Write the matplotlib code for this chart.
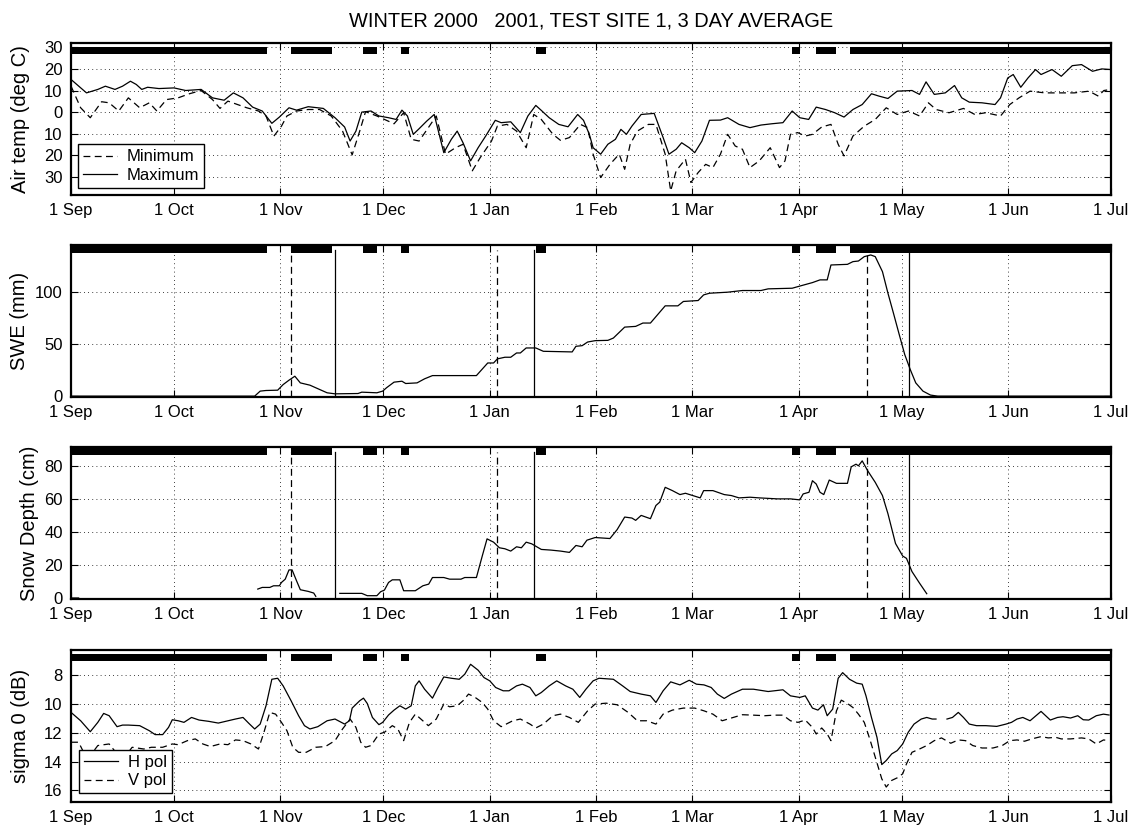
import numpy as np
import matplotlib.pyplot as plt
from matplotlib.lines import Line2D
from datetime import date

plt.rcParams['font.family'] = ['Liberation Sans', 'DejaVu Sans']
plt.rcParams['font.size'] = 12

# time axis: days since 1 Sep 2000
start = date(2000, 9, 1)
month_dates = [date(2000, 9, 1), date(2000, 10, 1), date(2000, 11, 1), date(2000, 12, 1),
               date(2001, 1, 1), date(2001, 2, 1), date(2001, 3, 1), date(2001, 4, 1),
               date(2001, 5, 1), date(2001, 6, 1), date(2001, 7, 1)]
month_labels = ['1 Sep', '1 Oct', '1 Nov', '1 Dec', '1 Jan', '1 Feb', '1 Mar',
                '1 Apr', '1 May', '1 Jun', '1 Jul']
month_days = [(d - start).days for d in month_dates]

# flagged periods shown as black bars along the top of each panel (day from, day to)
flag_from = [0, 64, 85, 96, 135.5, 210, 217, 227]
flag_to = [57, 76, 89, 98.5, 138.5, 212.5, 223, 303]

# event markers
dashed_events = [64, 124, 232]
solid_events = [77, 135, 244]

# air temperature, 3 day average
tmax_day = [0, 4.5, 7.8, 10, 12.8, 15, 17.3, 19, 20.6, 22.3,
            25.6, 30, 33.4, 37.9, 41.2, 44.6, 47.3, 50.1, 52.9, 55.7,
            58.5, 60.7, 63.5, 65.7, 69.1, 73.5, 76.9, 79.7, 81.3, 83,
            84.7, 87.4, 89.7, 92.5, 94.7, 96.4, 98, 99.7, 101.4, 103.6,
            105.8, 108.6, 110.8, 112.5, 114.2, 116.4, 118.6, 120.8, 123.6, 125.3,
            128.1, 130.9, 133.1, 135.4, 137, 139.3, 142.1, 144.8, 147.6, 149.3,
            151, 152.1, 154.3, 156.4, 158.6, 160.2, 161.8, 163.4, 166.1, 169.9,
            172.5, 174.2, 176.3, 177.9, 180.1, 181.7, 183.8, 186, 189.2, 191.3,
            194.6, 197.8, 201, 204.2, 207.4, 210.1, 212.3, 214.9, 217.1, 219.8,
            222.5, 225.2, 227.8, 230.5, 233.2, 235.4, 238, 240.7, 245, 247.2,
            249.1, 251.5, 254.7, 257.4, 259.5, 261.7, 265.4, 269.2, 270.8, 272.9,
            274.5, 276.7, 278.8, 281, 282.6, 285.8, 288.5, 291.7, 294.4, 297.6,
            300.3, 303]
tmax_val = [15.1, 8.9, 10.5, 12, 10.5, 12, 14.3, 12.8, 10.5, 11.5,
            10.9, 11.2, 10, 10.5, 6.6, 5.5, 8.9, 6.6, 2.3, 0.5,
            -5.2, -2.3, 2, 0.9, 2.5, 1.7, -2.6, -6.9, -13.4, -8.8,
            0, 0.5, -1.8, -2.6, -3.4, 0.9, -1.8, -10.3, -7.7, -4.2,
            -1.1, -18.8, -12.6, -8.8, -14.2, -22.6, -16.5, -11.1, -3.8, -4.9,
            -4.5, -9.5, -1.8, 3.1, 0.8, -2.6, -5.7, -6.8, -1.1, -3.8,
            -10.3, -16.5, -19.5, -14.9, -12.6, -8, -10.3, -6.5, -1.1, -0.6,
            -11.8, -19.5, -17.2, -14.2, -16.5, -18.8, -13.4, -3.8, -3.7, -2.6,
            -5.7, -7.2, -6, -5.4, -4.9, 0.5, -2.6, -3.4, 2.3, 1.2,
            -0.3, -2.3, 1.2, 3.5, 8.5, 7.4, 6.3, 9.7, 10, 8.2,
            14, 8.2, 8.9, 12.3, 6.6, 4.6, 4.3, 3.5, 6.6, 15.8,
            17.4, 11.5, 15.8, 19.7, 17.4, 19.7, 16.6, 21.5, 22, 18.9,
            20, 19.7]

tmin_day = [0, 2.8, 5.6, 8.9, 11.1, 13.9, 16.7, 20, 22.8, 25,
            27.8, 31.2, 34.5, 37.9, 41.2, 43.4, 45.7, 48.5, 51.2, 54.6,
            56.8, 59.1, 61.3, 62.9, 65.7, 69.1, 72.4, 75.8, 79.1, 81.9,
            84.1, 85.8, 89.1, 94.1, 96.9, 99.1, 101.4, 104.1, 106.4, 109.1,
            112, 114.2, 116.9, 119.2, 122.5, 124.2, 127, 129.8, 132.6, 134.8,
            137, 140.4, 142.6, 145.2, 148.4, 150.5, 152.1, 154.3, 157, 159.7,
            161.3, 162.9, 165, 168.2, 170.4, 173.1, 174.7, 176.3, 179, 180.6,
            182.7, 184.9, 187, 189.2, 191.3, 193.5, 195.6, 197.8, 200.5, 203.7,
            206.4, 208, 209.6, 211.7, 213.9, 216, 218.7, 221.4, 223.5, 225.2,
            227.8, 231.1, 234.3, 237.5, 240.7, 244, 247.2, 249.8, 252, 255.8,
            260, 263.3, 266.5, 270.8, 273.5, 276.2, 279.4, 283.7, 288, 292.3,
            296.6, 299.3, 300.9, 303]
tmin_val = [12, 2, -2.6, 4.8, 4.3, 0.5, 6.6, 2, 4.3, 0.5,
            5.8, 6.6, 8.5, 10, 5.8, 1.7, 5.1, 3.5, 2, 0.5,
            -1.8, -11.1, -6.5, -1.8, 0.5, 1.2, 1.2, -1.8, -8.8, -19.8,
            -8.8, 0.2, -1.8, -5.4, -0.3, -12.6, -13.4, -7.2, -1.8, -19.5,
            -16.5, -14.9, -27.2, -21.1, -13.4, -6.5, -5.7, -8.8, -16.5, -1.1,
            -3.4, -10.3, -13.1, -11.8, -5.7, -7.2, -19.5, -30.3, -24.2, -19.5,
            -26.5, -14.9, -8.8, -5.7, -5.7, -19.5, -36.5, -27.2, -21.8, -32.6,
            -28, -24.2, -25.7, -19.5, -10.3, -15.7, -17.2, -25.7, -22.6, -16.5,
            -25.7, -22.6, -10.3, -9.5, -11.1, -10.3, -6.9, -5.7, -14.9, -20.3,
            -11.1, -6.5, -3.4, 2, -1.1, 0.5, -1.8, 4.3, 1.2, -0.3,
            1.7, -1.1, -0.3, -1.8, 3.5, 6.6, 9.7, 8.9, 8.9, 8.9,
            9.7, 7.4, 10, 10.5]

# snow water equivalent (mm)
swe_day = [0, 53.5, 55.1, 56.8, 60.2, 61.8, 63.5, 65.2, 66.8, 69.6,
           72.4, 74.6, 76.9, 83.6, 84.7, 89.1, 90.8, 91.9, 94.1, 96.4,
           97.5, 100.8, 103, 105.3, 118.1, 121.4, 123.1, 124.2, 126.4, 128.1,
           129.8, 130.9, 132.6, 135.4, 137.6, 146, 147.1, 148.9, 150.5, 152.7,
           156.4, 158, 161.3, 164.5, 166.6, 168.8, 173.1, 176.8, 178.4, 182.7,
           184.3, 186, 191.3, 195.6, 201, 203.1, 210.1, 212.8, 216, 218.2,
           220.3, 221.4, 226.2, 227.8, 229.4, 231.1, 233, 234.3, 236.4, 238,
           239.6, 241.3, 242.9, 244.5, 246.1, 248.2, 250.4, 252.5, 303]
swe_val = [0, 0, 4.8, 5.4, 5.7, 11.1, 15.3, 19.1, 12.7, 10.5,
           6.4, 3.2, 2.2, 2.5, 3.8, 3.2, 4.8, 8, 13.4, 14.3,
           12.1, 12.7, 16.6, 19.7, 19.7, 31.8, 31.8, 35.7, 37.3, 37.3,
           41.4, 41.4, 46.2, 46.2, 43, 42.4, 47.8, 48.4, 51.9, 53.2,
           53.5, 55.7, 66.2, 66.9, 70.1, 70.1, 86.6, 86.6, 90.8, 91.7,
           97.1, 98.7, 99.7, 101.3, 101.3, 102.9, 103.5, 106, 108.9, 111.5,
           111.5, 125.8, 126.4, 129, 129.6, 133.8, 135.4, 133.8, 119.4, 98.7,
           79.6, 58.9, 39.8, 25.5, 12.7, 4.8, 1, 0, 0]

# snow depth (cm), nan marks missing records
depth_day = [0, 2.2, np.nan,
             54.4, 55.7, 57.9, 59, 60.7, 61.3, 62.4, 63.5, 64.4, 65.7, 66.8, 69.1, 70.7, 71.3,
             np.nan,
             78.3, 84.7, 86.3, 89.1, 90.2, 91.3, 92.5, 93.6, 95.8, 96.9,
             100.3, 102.5, 104.2, 105.3, 108.6, 110.3, 113.6, 114.7, 118.1, 119.8,
             121.2, 123.1, 124.8, 126.4, 128.1, 129.8, 131.2, 132.6, 134.2, 137,
             139.8, 142.6, 145.2, 147.1, 148.9, 150.3, 152.7, 157, 159.1, 161.3,
             163.4, 164.5, 166.1, 168.8, 170.4, 171.5, 173.1, 175.2, 177.4, 179,
             183.3, 184.3, 187, 190.3, 192.4, 194.6, 197.8, 200.5, 205.8, 209.6,
             212.3, 213.3, 215, 216, 217.1, 218.2, 219.3, 220.9, 223, 226.2,
             227.3, 228.7, 229.4, 230.5, 232.1, 234.3, 236.4, 238, 240.2, 242.3,
             243.4, 245, 247.2, 249.3]
depth_val = [0, 0, np.nan,
             5.4, 6.4, 6.4, 7.4, 7.4, 9.4, 11.4, 17, 17, 10.4, 5, 4, 3, 1,
             np.nan,
             2.8, 2.8, 1.4, 1.4, 3.8, 4.8, 9.4, 11, 11, 4.4,
             4.4, 7.4, 8.4, 12.4, 12.4, 11.4, 11.4, 12.4, 12.4, 25.4,
             35.8, 33.8, 30.4, 29.8, 28.4, 31, 30.4, 33.8, 32.8, 29.4,
             29, 28.4, 27.6, 31.8, 31, 35, 36.6, 36, 41.4, 49,
             48.4, 47, 50, 48, 56, 58, 67, 65, 62.6, 63.4,
             60.6, 65, 65, 62.6, 62, 60.6, 61, 60.6, 60, 60,
             59.4, 63, 64, 71, 69, 64, 62.6, 71.4, 69.4, 69.4,
             79.4, 81, 80, 83, 77, 70, 62, 51, 33, 25.4,
             24, 16, 9, 2.6]

# backscatter sigma 0 (dB)
hpol_day = [0, 2.8, 5.6, 7.8, 9.5, 11.1, 13.4, 15, 16.7, 20,
            22.8, 24.5, 26.7, 28.4, 29.5, 31.2, 32.9, 35.1, 37.3, 40.1,
            42.9, 45.7, 47.9, 50.1, 51.8, 53.5, 55.1, 56.8, 58.5, 60.2,
            61.8, 64.1, 66.3, 68, 69.6, 71.9, 74.6, 76.9, 79.7, 81.1,
            81.9, 84.1, 85.2, 86.3, 87.8, 89.7, 90.8, 92.5, 94.1, 95.8,
            97.5, 99.1, 100.3, 101.4, 103, 105.3, 106.9, 108.6, 110.8, 113.1,
            114.7, 116.4, 118.6, 120.3, 122, 123.7, 125.9, 127.6, 129.8, 131.5,
            133.7, 135.4, 137, 139.3, 141.5, 144.1, 146.2, 148.2, 150, 152.1,
            153.8, 158, 160.7, 162.9, 166.1, 168.8, 170.4, 172.5, 174.7, 177.4,
            180.1, 182.2, 184.4, 186.5, 188.3, 190.3, 192.4, 195.6, 198.8, 203.1,
            207.4, 209.6, 212.3, 213.9, 216, 217.6, 219.2, 220.3, 221.9, 223.5,
            224.8, 226.8, 228.9, 230.5, 231.6, 233.2, 234.8, 236.2, 237.5, 239.1,
            240.7, 242.3, 243.9, 245.6, 247.7, 249.3, 250.9, 252, np.nan, 255.2,
            256.8, 258.5, 260, 261.7, 263.8, 266.5, 269.7, 272.4, 274, 275.6,
            277.3, 279.4, 282.6, 285.3, 287.4, 289, 291.2, 293.3, 294.9, 296.5,
            298.7, 300.8, 302.4]
hpol_val = [10.58, 11.16, 11.92, 11.27, 10.65, 10.81, 11.57, 11.46, 11.46, 11.5,
            11.85, 12.12, 12.12, 11.62, 11.09, 11.16, 11.27, 10.93, 11.11, 11.2,
            11.32, 11.16, 11.04, 10.93, 11.34, 11.73, 11.39, 10.12, 8.28, 8.21,
            8.74, 9.77, 10.81, 11.5, 11.73, 11.57, 11.16, 11.04, 11.39, 11.16,
            10.28, 9.77, 9.59, 9.96, 10.93, 11.43, 11.27, 10.76, 10.42, 10.12,
            10.35, 10.12, 8.74, 8.39, 8.97, 9.59, 8.85, 8.12, 8.21, 8.28,
            7.93, 7.24, 7.65, 8.16, 8.39, 8.85, 9.08, 9.08, 8.74, 8.62,
            8.85, 9.43, 9.2, 8.74, 8.39, 8.74, 8.97, 9.54, 8.97, 8.39,
            8.21, 8.28, 8.74, 9.13, 9.31, 9.43, 9.89, 9.08, 8.46, 8.67,
            8.35, 8.62, 8.67, 8.85, 9.31, 9.61, 9.31, 8.97, 8.97, 9.13,
            9.01, 9.43, 9.54, 9.43, 10.28, 10.42, 10.05, 10.81, 10.35, 8.21,
            7.82, 8.28, 8.55, 8.62, 9.43, 10.93, 12.31, 14.2, 13.92, 13.46,
            13.23, 12.77, 11.96, 11.39, 11.04, 10.93, 11.04, 11.04, np.nan, 11.04,
            10.93, 10.58, 10.93, 11.39, 11.5, 11.5, 11.55, 11.39, 11.27, 11.04,
            10.93, 11.16, 10.51, 11.11, 10.93, 10.88, 10.97, 10.81, 11.09, 11.11,
            10.81, 10.7, 10.76]

vpol_day = [0, 2.2, 3.9, 5.6, 7.8, 11.1, 13.4, 15.6, 17.8, 21.2,
            23.4, 26.7, 29.5, 31.2, 33.9, 36.2, 38.4, 40.6, 43.4, 45.7,
            47.9, 50.1, 52.4, 54.6, 56.2, 57.9, 59.6, 61.3, 62.9, 64.6,
            66.3, 68.5, 71.3, 74.1, 76.9, 79.1, 81.3, 83, 84.4, 85.8,
            87.4, 89.7, 91.3, 93.6, 95.2, 96.9, 98.6, 100.3, 101.9, 104.1,
            106.4, 108.6, 110.3, 112.5, 114.2, 115.8, 117.5, 119.8, 121.4, 123.1,
            125.3, 128.7, 130.9, 133.7, 135.4, 137.6, 140.4, 142.6, 145.2, 147.8,
            150.5, 152.7, 155.9, 159.1, 162.3, 165, 167.7, 170.4, 172.5, 175.2,
            178.4, 181.7, 184.4, 187, 189.7, 192.4, 195.6, 198.8, 202.1, 204.8,
            207.4, 209.6, 211.8, 213.9, 216, 217.1, 218.7, 220.3, 221.4, 223,
            224.4, 226.2, 227.8, 229.4, 231.1, 232.7, 234.3, 236.2, 237.5, 239.1,
            240.7, 242.3, 243.4, 245, 247.2, 249.3, 251.5, 253.6, 256.3, 258.5,
            260.6, 262.7, 265.4, 268.6, 271.3, 273.5, 275.6, 277.8, 279.9, 282.6,
            284.7, 286.9, 288.5, 291.2, 294.4, 296.5, 298.7, 300.8, 302.4]
vpol_val = [12.65, 12.65, 13.46, 13.58, 12.88, 12.77, 13.46, 13.69, 13, 13.12,
            13, 13, 12.77, 12.82, 12.54, 12.42, 12.77, 12.95, 12.77, 12.82,
            12.49, 12.54, 12.77, 13.12, 11.96, 10.58, 10.7, 11.27, 11.85, 13,
            13.35, 13.35, 13, 12.95, 12.54, 11.73, 11.04, 11.62, 12.65, 13,
            12.88, 12.08, 11.96, 11.5, 11.73, 12.54, 11.27, 10.7, 11.04, 11.5,
            11.04, 10, 10.19, 10.12, 9.77, 9.31, 9.5, 9.89, 10.35, 11.16,
            11.57, 11.16, 11.04, 11.39, 11.66, 11.39, 10.81, 10.7, 10.93, 11.27,
            10.47, 10, 9.94, 10.05, 10.58, 11.16, 11.16, 11.39, 10.7, 10.42,
            10.28, 10.28, 10.47, 10.7, 11.16, 10.97, 10.74, 10.77, 10.81, 10.77,
            10.77, 11.16, 11.27, 11.11, 11.62, 12.08, 11.66, 12.08, 12.54, 10.47,
            9.73, 9.96, 10.24, 10.7, 11.27, 12.42, 13.69, 15.19, 15.76, 15.3,
            15.12, 14.84, 14.15, 13.35, 13.12, 12.88, 12.54, 12.35, 12.72, 12.49,
            12.54, 12.88, 13.05, 13.05, 12.88, 12.54, 12.49, 12.58, 12.42, 12.26,
            12.35, 12.31, 12.42, 12.42, 12.35, 12.42, 12.77, 12.49, 12.54]

DASH = (0, (5.5, 3.5))
LW = 0.9
LABEL_SIZE = 14.5

fig = plt.figure(figsize=(11.35, 8.27), dpi=100)
left, width, height = 0.0626, 0.9163, 0.1838
bottoms = [0.7642, 0.5200, 0.2757, 0.0302]
axes = [fig.add_axes([left, b, width, height]) for b in bottoms]


def style_axis(ax, bar_y):
    ax.set_xlim(0, 303)
    ax.set_xticks(month_days)
    ax.set_xticklabels(month_labels)
    ax.tick_params(direction='in', top=True, right=True, length=5, width=0.8, pad=6)
    ax.grid(True, linestyle=(0, (1, 4)), color='k', linewidth=0.6)
    ax.set_axisbelow(True)
    for sp in ax.spines.values():
        sp.set_linewidth(1.6)
    widths = [b - a for a, b in zip(flag_from, flag_to)]
    ax.broken_barh(list(zip(flag_from, widths)), (bar_y, 0.05),
                   transform=ax.get_xaxis_transform(), facecolor='k', edgecolor='none')


# Air temperature
ax = axes[0]
ax.plot(tmin_day, tmin_val, color='k', lw=LW, linestyle=DASH)
ax.plot(tmax_day, tmax_val, color='k', lw=LW)
ax.set_ylim(-38.4, 32)
temp_ticks = [-30, -20, -10, 0, 10, 20, 30]
ax.set_yticks(temp_ticks)
ax.set_yticklabels([str(abs(t)) for t in temp_ticks])
ax.set_ylabel('Air temp (deg C)', fontsize=LABEL_SIZE)
ax.yaxis.set_label_coords(-0.039, 0.5)
style_axis(ax, 0.926)
handles = [Line2D([], [], color='k', lw=LW, linestyle=DASH),
           Line2D([], [], color='k', lw=LW)]
leg = ax.legend(handles, ['Minimum', 'Maximum'], loc='lower left',
                bbox_to_anchor=(0.007, 0.048), borderaxespad=0, fancybox=False,
                edgecolor='k', framealpha=1, handlelength=2.0, borderpad=0.3,
                labelspacing=0.2, handletextpad=0.6)
leg.get_frame().set_linewidth(1.0)

title = 'WINTER 2000   2001, TEST SITE 1, 3 DAY AVERAGE'
fig.text(0.5207, 0.9674, title, ha='center', va='baseline', fontsize=14.4)

# SWE
ax = axes[1]
ax.plot(swe_day, swe_val, color='k', lw=LW)
for d in dashed_events:
    ax.axvline(d, ymax=0.97, color='k', lw=LW, linestyle=DASH)
for d in solid_events:
    ax.axvline(d, ymax=0.97, color='k', lw=LW)
ax.set_ylim(-0.8, 145)
ax.set_yticks([0, 50, 100])
ax.set_ylabel('SWE (mm)', fontsize=LABEL_SIZE)
ax.yaxis.set_label_coords(-0.040, 0.5)
style_axis(ax, 0.945)

# Snow depth
ax = axes[2]
ax.plot(depth_day, depth_val, color='k', lw=LW)
for d in dashed_events:
    ax.axvline(d, ymax=0.97, color='k', lw=LW, linestyle=DASH)
for d in solid_events:
    ax.axvline(d, ymax=0.97, color='k', lw=LW)
ax.set_ylim(-0.6, 91.4)
ax.set_yticks([0, 20, 40, 60, 80])
ax.set_ylabel('Snow Depth (cm)', fontsize=LABEL_SIZE)
ax.yaxis.set_label_coords(-0.031, 0.5)
style_axis(ax, 0.945)

# Backscatter
ax = axes[3]
ax.plot(hpol_day, hpol_val, color='k', lw=LW)
ax.plot(vpol_day, vpol_val, color='k', lw=LW, linestyle=DASH)
ax.set_ylim(16.8, 6.25)
ax.set_yticks([8, 10, 12, 14, 16])
ax.set_ylabel('sigma 0 (dB)', fontsize=LABEL_SIZE)
ax.yaxis.set_label_coords(-0.039, 0.5)
style_axis(ax, 0.926)
handles = [Line2D([], [], color='k', lw=LW),
           Line2D([], [], color='k', lw=LW, linestyle=DASH)]
leg = ax.legend(handles, ['H pol', 'V pol'], loc='lower left',
                bbox_to_anchor=(0.008, 0.057), borderaxespad=0, fancybox=False,
                edgecolor='k', framealpha=1, handlelength=2.0, borderpad=0.3,
                labelspacing=0.2, handletextpad=0.6)
leg.get_frame().set_linewidth(1.0)

fig.savefig('out.png', dpi=100)
